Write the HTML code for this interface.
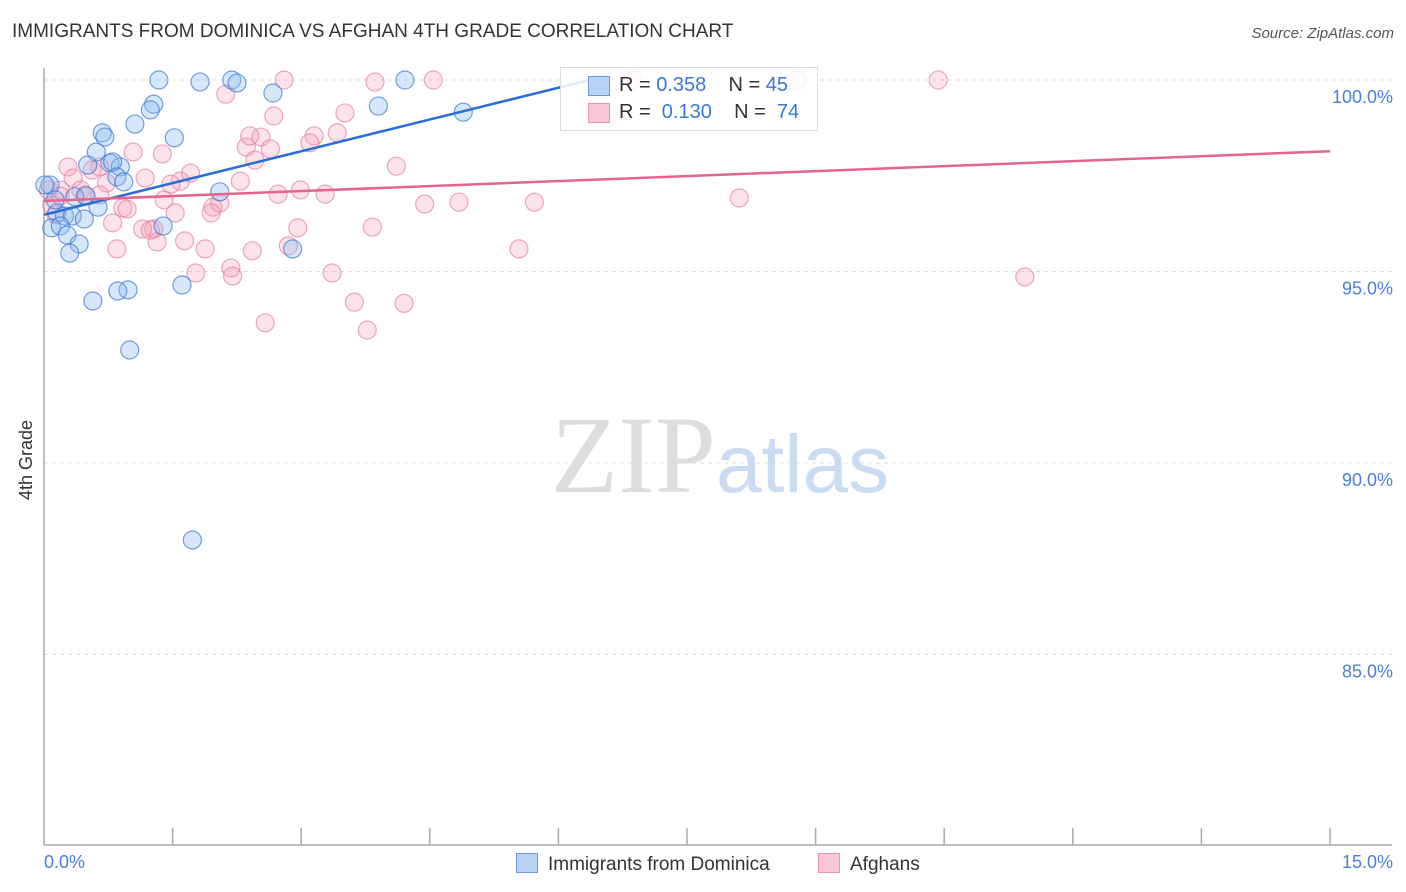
<!DOCTYPE html>
<html><head><meta charset="utf-8"><style>
body{margin:0;background:#fff;font-family:"Liberation Sans",sans-serif;}
#wrap{position:relative;width:1406px;height:892px;overflow:hidden;}
.t{position:absolute;white-space:nowrap;}
</style></head><body>
<div id="wrap">
<div class="t" style="left:12px;top:21px;font-size:19px;color:#333;">IMMIGRANTS FROM DOMINICA VS AFGHAN 4TH GRADE CORRELATION CHART</div>
<div class="t" style="right:12px;top:25px;font-size:15px;color:#555;font-style:italic;">Source: ZipAtlas.com</div>
<svg id="svg" width="1406" height="892" style="position:absolute;left:0;top:0"></svg>
</div>
<script>
const blueX=[1.34,1.82,2.19,2.25,4.21,2.67,1.28,1.24,3.90,4.89,1.06,0.68,0.71,1.52,0.61,0.51,0.77,0.89,0.80,0.85,0.93,0.07,0.36,0.49,2.05,0.63,0.15,0.24,0.33,0.47,0.09,0.19,0.27,0.41,0.30,1.39,2.90,0.98,0.86,0.57,1.61,1.00,1.73,0.01,0.13];
const blueY=[100,99.95,100,99.92,100,99.66,99.37,99.22,99.32,99.16,98.85,98.62,98.51,98.49,98.12,97.78,97.83,97.73,97.86,97.47,97.34,97.26,96.95,96.97,97.08,96.68,96.53,96.45,96.45,96.37,96.14,96.19,95.95,95.72,95.48,96.19,95.59,94.52,94.49,94.23,94.65,92.95,87.99,97.26,96.87];
const pinkX=[2.80,3.86,4.54,6.87,8.79,10.43,2.12,2.68,3.51,2.53,3.15,3.42,2.36,2.64,3.10,1.04,1.38,2.46,4.11,0.28,0.65,0.56,1.71,1.18,1.59,1.48,2.29,0.34,0.73,0.43,0.19,2.73,2.99,3.28,8.11,1.40,2.05,1.97,4.44,4.84,5.72,1.53,0.92,0.97,0.80,1.95,2.96,3.83,1.28,1.15,1.64,1.32,1.88,0.85,2.43,2.85,5.54,2.18,2.20,3.36,1.77,11.44,3.62,4.20,2.58,3.77,0.05,0.09,0.19,0.48,0.14,1.24,2.40,0.65];
const pinkY=[100,99.95,100,100,100,100,99.63,99.06,99.14,98.51,98.54,98.62,98.25,98.20,98.36,98.12,98.07,97.91,97.75,97.73,97.73,97.65,97.57,97.44,97.36,97.28,97.36,97.44,97.31,97.13,97.13,97.02,97.13,97.02,96.92,96.87,96.79,96.68,96.76,96.81,96.81,96.53,96.66,96.63,96.27,96.53,96.14,96.16,96.11,96.11,95.80,95.77,95.59,95.59,95.54,95.67,95.59,95.09,94.88,94.96,94.96,94.86,94.20,94.17,93.66,93.47,97.13,96.74,96.97,97.00,96.48,96.08,98.54,97.00];
const yTicks=[100,95,90,85];
const yTickLabels=["100.0%","95.0%","90.0%","85.0%"];
const blueLine=[96.48,0.553];
const pinkLine=[96.84,0.0867];
const X0=44,X1=1330,Y100=80,ppy=38.3;
const sx=v=>X0+(v/15)*(X1-X0);
const sy=v=>Y100+(100-v)*ppy;
const NS="http://www.w3.org/2000/svg";
const svg=document.getElementById('svg');
function mk(tag,attrs,parent){const e=document.createElementNS(NS,tag);for(const k in attrs)e.setAttribute(k,attrs[k]);(parent||svg).appendChild(e);return e;}
yTicks.forEach((t,i)=>{
 const g=mk('line',{x1:X0,x2:1392,y1:sy(t),y2:sy(t),stroke:'#ddd','stroke-dasharray':'4,4'});
 
 
 const tx=mk('text',{x:1393,y:sy(t)+23,'text-anchor':'end','font-size':18,fill:'#4a7fd6','font-family':'Liberation Sans, sans-serif'});
 tx.textContent=yTickLabels[i];
 
 
});
const ya=mk('line',{x1:X0,x2:X0,y1:68,y2:845,stroke:'#aaa','stroke-width':1.5});


const xa=mk('line',{x1:X0,x2:1392,y1:845,y2:845,stroke:'#aaa','stroke-width':1.5});


for(let i=1;i<=10;i++){const tk=mk('line',{x1:sx(i*1.5),x2:sx(i*1.5),y1:828,y2:845,stroke:'#aaa','stroke-width':1.5});
 
 }
const wm=mk('text',{x:720,y:492,'text-anchor':'middle','font-size':110,fill:'#ddd','font-family':'Liberation Serif, serif'});
wm.innerHTML='ZIP<tspan fill="#c9dcf3" font-family="Liberation Sans, sans-serif" font-size="82">atlas</tspan>';


pinkX.forEach((x,i)=>{const c=mk('circle',{cx:sx(x),cy:sy(pinkY[i]),r:9,fill:'rgba(244,160,185,0.3)',stroke:'rgba(230,110,150,0.6)','stroke-width':1.2});
 
 });
blueX.forEach((x,i)=>{const c=mk('circle',{cx:sx(x),cy:sy(blueY[i]),r:9,fill:'rgba(140,185,240,0.35)',stroke:'rgba(60,120,210,0.7)','stroke-width':1.2});
 
 });
const bxEnd=(100-blueLine[0])/blueLine[1];
const bl=mk('line',{x1:sx(0),y1:sy(blueLine[0]),x2:sx(bxEnd),y2:sy(100),stroke:'#2a6fd6','stroke-width':2.5});


const pl=mk('line',{x1:sx(0),y1:sy(pinkLine[0]),x2:sx(15),y2:sy(pinkLine[0]+pinkLine[1]*15),stroke:'#e5648e','stroke-width':2.5});


</script>
<div class="t" style="left:560px;top:67px;width:256px;height:62px;border:1px solid #ddd;background:rgba(255,255,255,0.85);font-size:20px;color:#333;">
 <div style="position:absolute;left:27px;top:8px;width:20px;height:18px;background:#b8d3f5;border:1px solid #6a9be0"></div>
 <div style="position:absolute;left:58px;top:6px">R = <span style="color:#3a78d6">0.358</span>&nbsp;&nbsp;&nbsp; N = <span style="color:#3a78d6">45</span></div>
 <div style="position:absolute;left:27px;top:35px;width:20px;height:18px;background:#f8c8d6;border:1px solid #ec93b0"></div>
 <div style="position:absolute;left:58px;top:33px">R = &nbsp;<span style="color:#3a78d6">0.130</span>&nbsp;&nbsp;&nbsp; N = &nbsp;<span style="color:#3a78d6">74</span></div>
</div>
<div class="t" style="left:44px;top:852px;font-size:18px;color:#4a7fd6">0.0%</div>
<div class="t" style="right:13px;top:852px;font-size:18px;color:#4a7fd6">15.0%</div>
<div class="t" style="left:16px;top:500px;font-size:18px;color:#333;transform:rotate(-90deg);transform-origin:0 0">4th Grade</div>
<div class="t" style="left:516px;top:853px;font-size:19px;color:#333"><span style="display:inline-block;width:20px;height:18px;background:#b8d3f5;border:1px solid #6a9be0;vertical-align:-3px;margin-right:10px"></span>Immigrants from Dominica</div>
<div class="t" style="left:818px;top:853px;font-size:19px;color:#333"><span style="display:inline-block;width:20px;height:18px;background:#f8c8d6;border:1px solid #ec93b0;vertical-align:-3px;margin-right:10px"></span>Afghans</div>
</body></html>
